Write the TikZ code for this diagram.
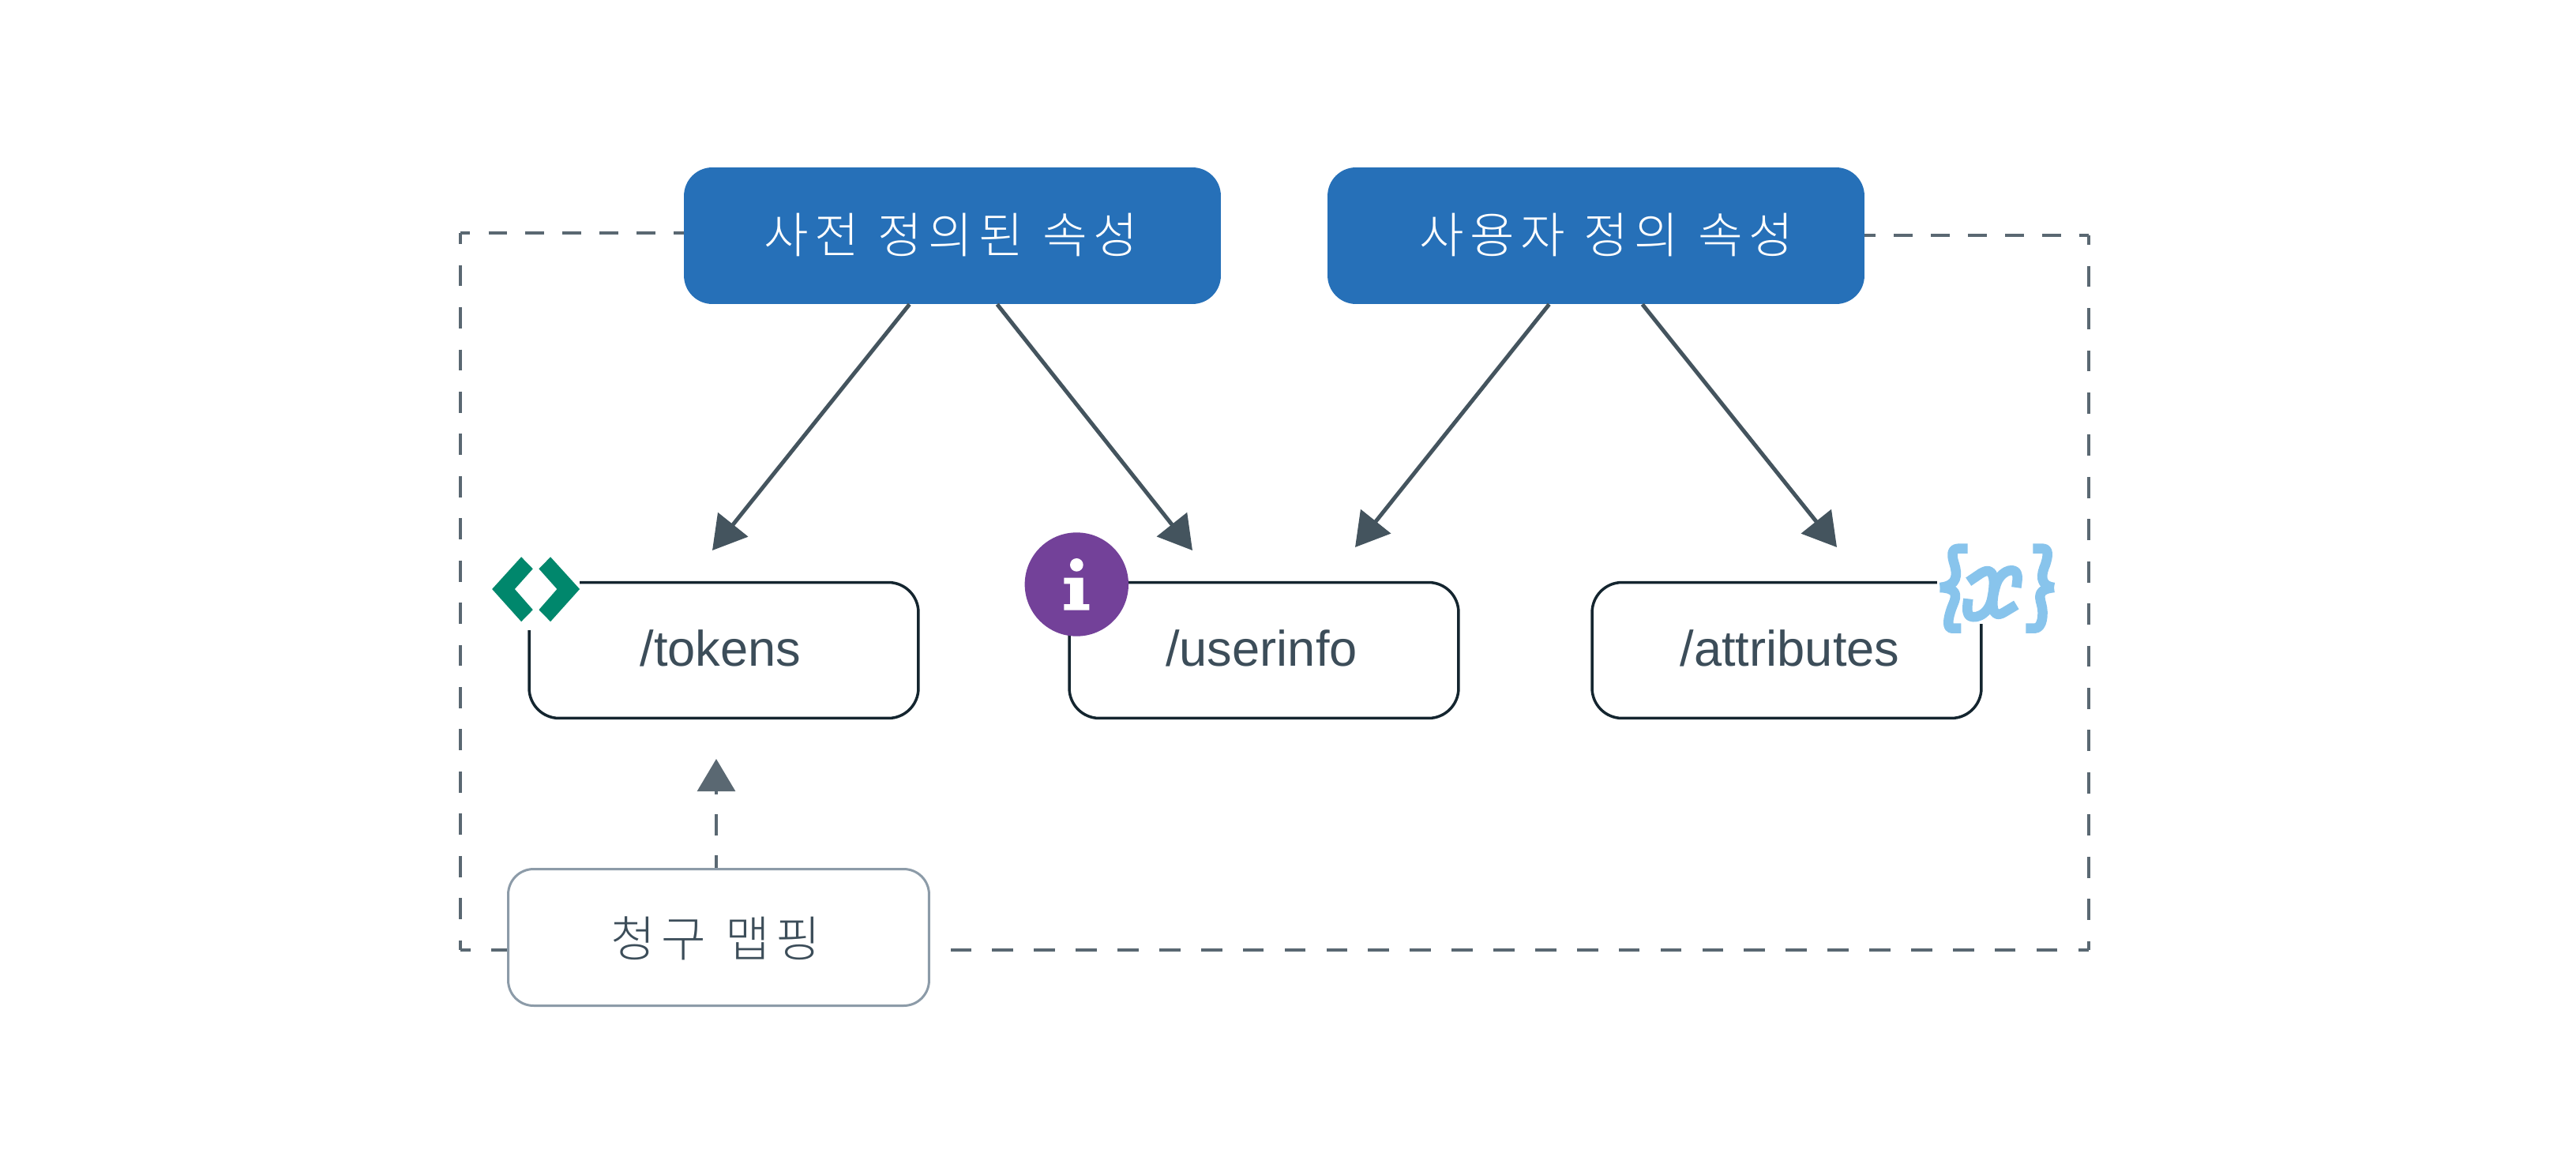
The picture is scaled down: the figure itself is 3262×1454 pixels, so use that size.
\documentclass[tikz,border=0pt]{standalone}
\usepackage{fontspec}
\setmainfont{Liberation Sans}
\newfontfamily\krfont[LetterSpace=12,WordSpace=1.15]{Noto Sans CJK KR Light}
\usetikzlibrary{arrows.meta,calc}
\definecolor{blueboxc}{HTML}{2670B8}
\definecolor{arrowc}{HTML}{44545E}
\definecolor{dashc}{HTML}{5A6872}
\definecolor{edgec}{HTML}{14252F}
\definecolor{textc}{HTML}{3C4D59}
\definecolor{greyedge}{HTML}{8C9BA8}
\definecolor{greenc}{HTML}{00876C}
\definecolor{purplec}{HTML}{734199}
\definecolor{lightb}{HTML}{88C4EC}
% text placed at a given offset from the node centre: x shift, baseline drop, text
\newcommand{\txtat}[3]{\kern\dimexpr 2\dimexpr #1\relax\relax\raisebox{#2}[0pt][0pt]{\makebox[0pt][c]{#3}}}
\tikzset{
  x=0.02cm,y=-0.02cm,
  attrbox/.style={draw=none,fill=blueboxc,rounded corners=.72cm,minimum width=13.6cm,minimum height=3.46cm,inner sep=0pt,text=white,font=\krfont\fontsize{35}{42}\selectfont},
  endpoint/.style={draw=edgec,line width=.07cm,fill=white,rounded corners=.76cm,minimum width=9.86cm,minimum height=3.44cm,inner sep=0pt,text=textc,font=\fontsize{36}{44}\selectfont},
  claimbox/.style={draw=greyedge,line width=.06cm,fill=white,rounded corners=.64cm,minimum width=10.66cm,minimum height=3.46cm,inner sep=0pt,text=textc,font=\krfont\fontsize{35}{42}\selectfont},
  link/.style={draw=arrowc,line width=.1cm,-{Triangle[length=.84cm,width=.96cm]}},
  hdash/.style={draw=dashc,line width=.094cm,dash pattern=on .47cm off .47cm,dash phase=.23cm},
  vdash/.style={draw=dashc,line width=.094cm,dash pattern=on .536cm off .533cm},
  bdash/.style={draw=dashc,line width=.094cm,dash pattern=on .534cm off .524cm},
  mapdash/.style={draw=dashc,line width=.094cm,dash pattern=on .54cm off .5cm,dash phase=.22cm,-{Triangle[length=.82cm,width=.95cm]}},
  xstroke/.style={draw=lightb,line width=.25cm,line cap=butt,line join=round}
}
\begin{document}
\begin{tikzpicture}
\useasboundingbox (0,0) rectangle (3262,1454);
\fill[white] (0,0) rectangle (3262,1454);
\coordinate (fa) at (583,295);
\coordinate (fb) at (583,1203);
\coordinate (fc) at (2645,1203);
\coordinate (fd) at (2645,298);
\coordinate (t1) at (902,697);
\coordinate (t2) at (1510,697);
\coordinate (t3) at (1716,693);
\coordinate (t4) at (2326,693);
\coordinate (t5) at (907,961);
% nodes
\node[attrbox] (pre) at (1206,298.5) {\txtat{-.04cm}{-.44cm}{사전 정의된 속성}};
\node[attrbox] (usr) at (2021,298.5) {\txtat{.26cm}{-.44cm}{사용자 정의 속성}};
\node[endpoint] (tok) at (916.5,823.5) {\txtat{-.08cm}{-.39cm}{/tokens}};
\node[endpoint] (inf) at (1600.5,823.5) {\txtat{-.06cm}{-.39cm}{/userinfo}};
\node[endpoint] (att) at (2262.5,823.5) {\txtat{.08cm}{-.39cm}{/attributes}};
% frame
\draw[hdash] (fa) -- (pre.west |- fa);
\draw[hdash] (fd) -- (usr.east |- fd);
\draw[vdash,dash phase=.256cm] (fa) -- (fb);
\draw[vdash,dash phase=.296cm] (fd) -- (fc);
\draw[bdash,dash phase=.274cm] (fb) -- (910,1203);
\draw[bdash,dash phase=.264cm] (fc) -- (910,1203);
\node[claimbox] (clm) at (910,1187) {\txtat{-.08cm}{-.48cm}{청구 맵핑}};
% arrows
\draw[link] ($(pre.south west)+(286,0)$) -- (t1);
\draw[link] ($(pre.south west)+(397,0)$) -- (t2);
\draw[link] ($(usr.south west)+(281,0)$) -- (t3);
\draw[link] ($(usr.south west)+(399,0)$) -- (t4);
\draw[mapdash] (clm.north -| t5) -- (t5);
% tokens icon
\fill[white] (600,680) rectangle (734,798);
\begin{scope}[shift={(560,180)},x=0.02cm/1.568,y=-0.02cm/2.063]
\fill[greenc] (99,1168)--(157,1084)--(180,1115)--(144,1168)--(180,1222)--(157,1253)--cycle;
\fill[greenc] (273,1168)--(215,1084)--(192,1115)--(228,1168)--(192,1222)--(215,1253)--cycle;
\end{scope}
% info icon
\begin{scope}[shift={(1260,640)},x=0.02cm/3,y=-0.02cm/3]
\fill[purplec] (310,300) circle[radius=1.314cm];
\fill[white] (310,226) circle[radius=.167cm];
\fill[white] (262,275)--(335,275)--(335,375)--(358,375)--(358,398)--(262,398)--(262,375)--(285,375)--(285,298)--(262,298)--cycle;
\end{scope}
% {x} icon
\fill[white] (2453,700) rectangle (2530,790);
\begin{scope}[shift={(2300,640)},x=0.02cm/3,y=-0.02cm/3]
\draw[xstroke] (575,164)--(540,164) .. controls (510,164) and (515,195) .. (525,225) .. controls (535,260) and (540,305) .. (470,312);
\draw[xstroke] (470,312) .. controls (535,315) and (535,340) .. (520,375) .. controls (505,410) and (490,467) .. (515,467) -- (550,467);
\draw[xstroke] (823,164)--(860,164) .. controls (885,164) and (880,195) .. (870,225) .. controls (855,260) and (845,305) .. (903,312);
\draw[xstroke] (903,312) .. controls (845,318) and (845,340) .. (855,375) .. controls (865,410) and (860,467) .. (830,467) -- (796,467);
\draw[xstroke] (578,290) -- (625,258) .. controls (680,225) and (680,290) .. (668,350) .. controls (655,425) and (590,435) .. (578,415) .. controls (570,400) and (575,375) .. (577,355);
\draw[xstroke] (760,378) -- (715,405) .. controls (660,440) and (665,360) .. (680,310) .. controls (695,250) and (745,235) .. (760,255) .. controls (768,270) and (762,295) .. (760,312);
\end{scope}
\end{tikzpicture}
\end{document}
